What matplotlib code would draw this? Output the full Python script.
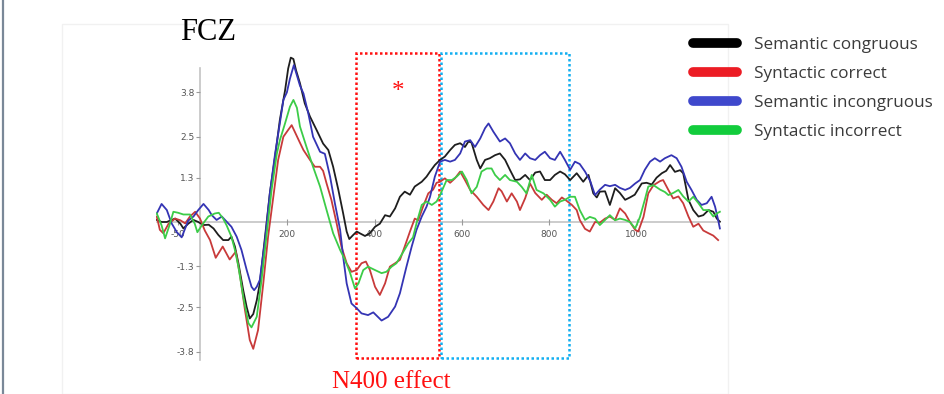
import matplotlib.pyplot as plt
from matplotlib.lines import Line2D
from matplotlib.patches import Rectangle

# ERP at FCZ, time in ms, amplitude in microvolts
t_black = [-99, -88, -76, -65, -57, -45, -38, -27, -15, -4, 8, 20, 31, 42, 53, 65, 72, 80, 88, 99,
           107, 114, 122, 130, 137, 149, 160, 172, 183, 195, 202, 208, 214, 220, 229, 240, 252, 267,
           282, 294, 305, 317, 328, 336, 342, 351, 359, 366, 378, 389, 401, 412, 424, 435, 447, 458,
           469, 481, 492, 508, 519, 527, 538, 550, 561, 573, 584, 596, 607, 615, 622, 634, 642, 653,
           664, 676, 687, 699, 710, 722, 733, 745, 756, 768, 779, 790, 802, 813, 825, 836, 848, 863,
           878, 890, 901, 909, 916, 928, 939, 951, 962, 974, 985, 996, 1012, 1023, 1035, 1046, 1058,
           1068, 1077, 1088, 1100, 1107, 1119, 1130, 1142, 1153, 1165, 1176, 1184, 1191]
v_black = [0.06, 0.0, 0.0, 0.06, 0.1, -0.05, -0.19, -0.05, 0.06, 0.0, -0.09, -0.08, -0.19, -0.38,
           -0.53, -0.53, -0.43, -0.72, -1.21, -2.0, -2.5, -2.83, -2.7, -2.3, -1.8, -0.43, 0.84, 1.92,
           3.0, 3.87, 4.5, 4.82, 4.78, 4.45, 4.07, 3.48, 3.09, 2.7, 2.3, 2.11, 1.62, 0.94, 0.25, -0.28,
           -0.5, -0.38, -0.28, -0.33, -0.41, -0.33, -0.14, -0.05, 0.2, 0.16, 0.4, 0.74, 0.89, 0.8, 1.04,
           1.18, 1.33, 1.48, 1.67, 1.82, 1.92, 2.11, 2.26, 2.31, 2.2, 2.36, 2.33, 1.82, 1.57, 1.82, 1.87,
           1.96, 2.01, 1.82, 1.53, 1.23, 1.25, 1.38, 1.23, 1.45, 1.48, 1.23, 1.23, 1.38, 1.48, 1.4, 1.23,
           1.43, 1.18, 1.38, 0.84, 0.72, 0.89, 0.9, 0.5, 0.99, 0.85, 0.65, 0.72, 0.8, 1.13, 1.15, 1.1,
           1.3, 1.43, 1.5, 1.67, 1.47, 1.52, 1.43, 0.65, 0.35, 0.16, 0.2, 0.35, 0.3, 0.1, 0.01]

t_red = [-99, -92, -84, -72, -57, -45, -34, -23, -11, 0, 11, 23, 36, 52, 68, 82, 92, 103, 114, 122,
         133, 145, 156, 168, 179, 191, 202, 210, 217, 228, 237, 252, 263, 275, 282, 290, 301, 313, 324,
         336, 347, 359, 370, 380, 389, 401, 412, 424, 435, 447, 458, 469, 481, 492, 500, 511, 523, 534,
         542, 550, 561, 573, 584, 596, 607, 619, 634, 649, 661, 672, 684, 691, 703, 714, 726, 733, 745,
         756, 768, 783, 794, 806, 817, 829, 840, 852, 863, 870, 882, 893, 905, 916, 928, 939, 951, 962,
         974, 985, 997, 1004, 1016, 1027, 1039, 1054, 1061, 1073, 1084, 1096, 1107, 1119, 1130, 1142,
         1153, 1165, 1176, 1187]
v_red = [0.16, -0.23, -0.33, -0.05, 0.1, 0.05, -0.04, 0.16, 0.3, 0.1, -0.25, -0.53, -1.05, -0.72,
         -1.1, -0.87, -1.6, -2.58, -3.46, -3.72, -3.17, -1.8, -0.43, 0.74, 1.82, 2.5, 2.7, 2.84, 2.65,
         2.35, 2.11, 1.82, 1.62, 1.62, 1.5, 1.13, 0.65, -0.04, -0.72, -1.21, -1.46, -1.41, -1.21, -1.16,
         -1.4, -1.9, -2.14, -1.8, -1.31, -1.21, -1.11, -0.72, -0.28, 0.1, 0.05, 0.45, 0.84, 0.95, 1.15,
         1.18, 1.28, 1.15, 1.28, 1.48, 1.23, 0.94, 0.74, 0.5, 0.35, 0.6, 0.99, 0.9, 0.6, 0.84, 0.6,
         0.35, 0.7, 1.13, 0.85, 0.65, 0.8, 0.65, 0.55, 0.72, 0.62, 0.5, 0.35, 0.06, -0.2, -0.28, 0.0,
         -0.02, 0.1, 0.16, 0.06, 0.4, 0.25, 0.0, -0.23, -0.28, 0.15, 0.84, 1.08, 1.2, 1.23, 0.94, 0.69,
         0.75, 0.55, 0.16, -0.14, -0.05, -0.25, -0.33, -0.4, -0.53]

t_blue = [-99, -88, -76, -65, -53, -42, -27, -15, -4, 8, 20, 27, 38, 50, 61, 72, 84, 95, 107, 118,
          124, 130, 137, 149, 160, 172, 183, 191, 199, 206, 215, 222, 229, 237, 248, 259, 275, 286,
          298, 309, 321, 328, 336, 347, 359, 370, 385, 397, 416, 431, 447, 458, 473, 485, 496, 508,
          519, 527, 538, 550, 561, 573, 584, 596, 607, 619, 630, 642, 653, 661, 672, 687, 699, 710,
          722, 733, 745, 756, 768, 779, 790, 802, 813, 825, 836, 848, 859, 870, 882, 894, 905, 916,
          928, 939, 951, 962, 974, 985, 997, 1008, 1019, 1031, 1042, 1054, 1065, 1080, 1092, 1103,
          1115, 1126, 1138, 1149, 1161, 1172, 1180, 1187, 1191]
v_blue = [0.25, 0.53, 0.35, -0.04, -0.3, -0.45, 0.04, 0.16, 0.35, 0.53, 0.35, 0.2, 0.06, 0.16, 0.01,
          -0.14, -0.43, -0.82, -1.41, -1.9, -2.0, -1.9, -1.7, -0.53, 0.84, 2.0, 2.9, 3.58, 3.8, 4.2,
          4.6, 4.3, 4.0, 3.77, 3.19, 2.5, 2.06, 2.0, 1.33, 0.55, -0.23, -1.02, -1.8, -2.39, -2.53,
          -2.68, -2.73, -2.65, -2.89, -2.78, -2.48, -2.09, -1.31, -0.72, -0.23, 0.16, 0.45, 0.74, 1.33,
          1.77, 1.82, 1.77, 1.82, 2.01, 2.36, 2.4, 2.2, 2.45, 2.75, 2.89, 2.65, 2.36, 2.45, 2.31, 2.01,
          1.82, 2.01, 1.87, 1.82, 1.96, 2.06, 1.87, 1.82, 2.06, 1.82, 1.53, 1.77, 1.7, 1.48, 1.2, 0.79,
          0.95, 1.09, 1.05, 1.09, 1.0, 0.94, 1.0, 1.13, 1.23, 1.53, 1.77, 1.87, 1.77, 1.87, 1.96, 1.87,
          1.62, 1.18, 0.94, 0.65, 0.5, 0.55, 0.74, 0.45, 0.06, -0.19]

t_green = [-99, -88, -80, -70, -61, -50, -38, -23, -12, -6, 4, 19, 34, 43, 53, 61, 72, 80, 88, 99,
           111, 118, 130, 141, 153, 164, 176, 183, 195, 206, 214, 222, 229, 244, 259, 275, 290, 305,
           321, 332, 343, 355, 363, 374, 385, 401, 416, 427, 439, 450, 466, 477, 488, 496, 508, 519,
           531, 542, 550, 565, 577, 588, 600, 611, 622, 634, 645, 657, 668, 676, 687, 699, 710, 726,
           737, 748, 760, 771, 787, 802, 813, 825, 836, 848, 859, 870, 882, 893, 905, 916, 928, 939,
           951, 962, 974, 985, 997, 1008, 1019, 1027, 1039, 1054, 1065, 1073, 1084, 1096, 1107, 1119,
           1130, 1142, 1153, 1165, 1176, 1184, 1191]
v_green = [0.25, -0.1, -0.48, -0.1, 0.3, 0.27, 0.22, 0.22, -0.05, -0.3, -0.1, 0.16, 0.25, 0.27, 0.1,
           -0.1, -0.43, -0.82, -1.31, -2.19, -2.97, -3.09, -2.78, -1.7, -0.33, 0.94, 2.0, 2.4, 2.9,
           3.38, 3.58, 3.35, 2.8, 2.2, 1.62, 1.04, 0.35, -0.33, -0.82, -1.11, -1.46, -1.95, -1.8, -1.41,
           -1.31, -1.41, -1.5, -1.46, -1.31, -1.21, -0.87, -0.63, -0.45, -0.04, 0.5, 0.6, 0.5, 0.6,
           0.79, 1.23, 1.23, 1.33, 1.48, 1.23, 0.84, 1.03, 1.48, 1.57, 1.57, 1.38, 1.23, 1.38, 1.23,
           1.18, 1.03, 0.84, 1.38, 0.94, 0.84, 0.65, 0.45, 0.6, 0.65, 0.74, 0.74, 0.35, 0.06, 0.15, 0.1,
           -0.09, 0.06, 0.2, 0.05, 0.1, 0.06, 0.0, -0.19, 0.15, 0.65, 1.04, 1.08, 0.95, 0.88, 0.79,
           0.85, 0.94, 0.75, 0.6, 0.74, 0.55, 0.35, 0.35, 0.16, 0.25, 0.3]

names = ['Semantic congruous', 'Syntactic correct', 'Semantic incongruous', 'Syntactic incorrect']
curve_colors = ['#1e1e1e', '#c83a3a', '#3434b4', '#3ccc48']
legend_colors = ['#000000', '#ec1c24', '#3f48cc', '#12cc3c']

yticks = [-3.8, -2.5, -1.3, 1.3, 2.5, 3.8]
xticks = [-50, 200, 400, 600, 800, 1000]
n400_window = (357, 548)
late_window = (551, 845)

W, H = 945, 394
fig = plt.figure(figsize=(W / 100, H / 100), dpi=100)
fig.patch.set_facecolor('white')

def fx(px):
    return px / W

def fy(py):
    return 1 - py / H

# faint frame of the pasted chart image and the slide edge on the left
fig.patches.append(Rectangle((fx(62), 0), fx(728) - fx(62), fy(24), transform=fig.transFigure,
                             fill=False, edgecolor='#f1f1f1', lw=1))
fig.add_artist(Line2D([fx(3), fx(3)], [0, 1], color='#7a8898', lw=1.6))

ax = fig.add_axes([0.16545, 0.08173, 0.60048, 0.78756])
ax.set_xlim(-100, 1200)
ax.set_ylim(-4.1, 5.0)
ax.patch.set_alpha(0)

series = [(t_black, v_black), (t_red, v_red), (t_blue, v_blue), (t_green, v_green)]
for (t, v), c in zip(series, curve_colors):
    ax.plot(t, v, color=c, lw=1.3, solid_joinstyle='round')

for s in ['top', 'right']:
    ax.spines[s].set_visible(False)
ax.spines['left'].set_position(('data', 0))
ax.spines['left'].set_bounds(-4.05, 4.52)
ax.spines['bottom'].set_position(('data', 0))
ax.spines['bottom'].set_bounds(-98, 1192)
for s in ['left', 'bottom']:
    ax.spines[s].set_color('#c4c4c4')
    ax.spines[s].set_linewidth(1.2)
    ax.spines[s].set_zorder(0)

ax.set_yticks(yticks)
ax.set_yticklabels([str(y) for y in yticks])
ax.set_xticks(xticks)
ax.set_xticklabels([str(x) for x in xticks])
ax.tick_params(axis='y', direction='out', length=3, width=0.8, color='#9a9a9a', pad=1,
               labelsize=6.5, labelcolor='#555555')
ax.tick_params(axis='x', direction='inout', length=4, width=0.8, color='#9a9a9a', pad=4,
               labelsize=6.5, labelcolor='#555555')

# dotted analysis windows
ax.add_patch(Rectangle((n400_window[0], -4.0), n400_window[1] - n400_window[0], 8.96,
                       fill=False, edgecolor='#ff1010', lw=1.8, linestyle=(0, (1, 1)), clip_on=False))
ax.add_patch(Rectangle((late_window[0], -4.0), late_window[1] - late_window[0], 8.96,
                       fill=False, edgecolor='#12aef0', lw=1.8, linestyle=(0, (1, 1)), clip_on=False))

fig.text(fx(398), fy(92), '*', color='#ff1010', fontsize=18, family='Liberation Serif',
         ha='center', va='center')
fig.text(fx(180), fy(40), 'FCZ', fontsize=22, family='Liberation Serif', va='baseline')
fig.text(fx(332), fy(388), 'N400 effect', fontsize=18, family='Liberation Serif',
         color='#ff1010', va='baseline')

handles = [Line2D([], [], color=c, lw=7, solid_capstyle='round') for c in legend_colors]
fig.legend(handles, names, loc='upper left', bbox_to_anchor=(fx(693), fy(37)), frameon=False,
           prop={'family': 'Open Sans', 'size': 12.3}, labelcolor='#3a3a3a',
           handlelength=2.6, handletextpad=1.0, labelspacing=0.76, borderpad=0, borderaxespad=0)

fig.savefig('out.png', dpi=100)
